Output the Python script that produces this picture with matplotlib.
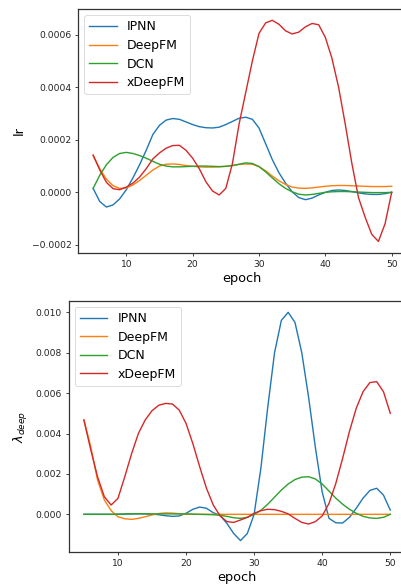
import numpy as np
import matplotlib
matplotlib.use("Agg")
import matplotlib.pyplot as plt

epochs = list(range(5, 51))

# learning rate per epoch (units of 1e-4)
lr_ipnn = [0.15, -0.35, -0.56, -0.48, -0.25, 0.10, 0.55, 1.05, 1.60, 2.20,
           2.55, 2.75, 2.81, 2.78, 2.68, 2.58, 2.50, 2.46, 2.45, 2.48,
           2.58, 2.70, 2.82, 2.86, 2.78, 2.45, 1.85, 1.25, 0.75, 0.35,
           0.02, -0.20, -0.28, -0.22, -0.10, 0.00, 0.07, 0.09, 0.07, 0.03,
           -0.02, -0.06, -0.08, -0.08, -0.05, 0.00]
lr_deepfm = [1.40, 0.90, 0.50, 0.25, 0.15, 0.17, 0.28, 0.45, 0.65, 0.85,
             1.00, 1.07, 1.08, 1.06, 1.02, 0.99, 0.97, 0.96, 0.96, 0.97,
             0.99, 1.02, 1.06, 1.08, 1.07, 0.98, 0.82, 0.62, 0.44, 0.30,
             0.20, 0.16, 0.15, 0.17, 0.20, 0.23, 0.25, 0.26, 0.26, 0.25,
             0.24, 0.23, 0.22, 0.22, 0.22, 0.23]
lr_dcn = [0.15, 0.65, 1.05, 1.33, 1.48, 1.52, 1.48, 1.40, 1.30, 1.18,
          1.07, 1.00, 0.97, 0.97, 0.98, 0.99, 1.00, 1.00, 0.99, 0.98,
          0.99, 1.02, 1.07, 1.12, 1.10, 0.98, 0.78, 0.55, 0.33, 0.15,
          0.02, -0.07, -0.10, -0.08, -0.04, 0.00, 0.02, 0.03, 0.03, 0.02,
          0.01, 0.00, -0.01, -0.01, -0.01, 0.00]
lr_xdeepfm = [1.42, 0.85, 0.38, 0.14, 0.10, 0.20, 0.35, 0.58, 0.90, 1.27,
              1.50, 1.68, 1.78, 1.79, 1.60, 1.30, 0.90, 0.40, 0.05, -0.10,
              0.15, 1.10, 2.60, 3.80, 5.00, 6.05, 6.45, 6.55, 6.40, 6.15,
              6.03, 6.10, 6.30, 6.43, 6.38, 5.90, 5.10, 4.00, 2.60, 1.10,
              -0.20, -0.95, -1.60, -1.87, -1.20, 0.00]

# lambda_deep per epoch (units of 1e-3)
lam_ipnn = [0.00, 0.00, 0.00, 0.00, 0.00, 0.00, 0.01, 0.02, 0.02, 0.02,
            0.01, -0.02, -0.07, -0.10, -0.08, 0.05, 0.25, 0.36, 0.30, 0.08,
            -0.05, -0.45, -0.95, -1.30, -0.95, 0.00, 2.30, 5.30, 8.00, 9.60,
            10.00, 9.50, 8.00, 5.80, 3.30, 1.10, -0.20, -0.42, -0.43, -0.15,
            0.30, 0.80, 1.18, 1.29, 0.95, 0.21]
lam_deepfm = [4.67, 3.35, 1.70, 0.71, 0.18, -0.12, -0.22, -0.25, -0.20, -0.12,
              -0.03, 0.04, 0.07, 0.06, 0.03, 0.00, 0.00, 0.00, 0.00, 0.00,
              0.00, 0.00, 0.00, 0.00, 0.00, 0.00, 0.00, 0.00, 0.00, 0.00,
              0.00, 0.00, 0.00, 0.00, 0.00, 0.00, 0.00, 0.00, 0.00, 0.00,
              0.00, 0.00, 0.00, 0.00, 0.00, 0.00]
lam_dcn = [0.00, 0.00, 0.00, 0.00, 0.00, 0.01, 0.02, 0.03, 0.03, 0.03,
           0.02, 0.02, 0.02, 0.02, 0.02, 0.02, 0.01, 0.00, -0.01, -0.02,
           -0.05, -0.10, -0.17, -0.20, -0.15, 0.00, 0.20, 0.50, 0.85, 1.20,
           1.50, 1.72, 1.84, 1.86, 1.75, 1.50, 1.15, 0.80, 0.50, 0.25,
           0.05, -0.10, -0.18, -0.20, -0.15, 0.00]
lam_xdeepfm = [4.67, 3.20, 1.86, 0.87, 0.46, 0.79, 1.86, 3.00, 4.00, 4.67,
               5.13, 5.40, 5.49, 5.46, 5.16, 4.50, 3.50, 2.36, 1.29, 0.46,
               -0.08, -0.36, -0.40, -0.28, -0.15, 0.05, 0.18, 0.25, 0.23, 0.15,
               0.02, -0.20, -0.40, -0.48, -0.36, -0.08, 0.54, 1.53, 2.77, 4.10,
               5.25, 6.07, 6.52, 6.57, 6.07, 5.00]

names = ["IPNN", "DeepFM", "DCN", "xDeepFM"]
colors = ["#1f77b4", "#ff7f0e", "#2ca02c", "#d62728"]

W, H = 401, 586
fig = plt.figure(figsize=(W / 100, H / 100), dpi=100)


def axes_px(left, right, top, bottom):
    return fig.add_axes([left / W, 1 - bottom / H, (right - left) / W, (bottom - top) / H])


TICK_FS = 6.6
LABEL_FS = 9.3
LEG_FS = 9.0


def style(ax):
    for s in ax.spines.values():
        s.set_color("#333333")
        s.set_linewidth(0.9)
    ax.tick_params(labelsize=TICK_FS, length=2.4, width=0.6, pad=2.5, colors="#222222")


def legend(ax):
    leg = ax.legend(loc="upper left", fontsize=LEG_FS, handlelength=2.2,
                    borderpad=0.4, labelspacing=0.45, handletextpad=0.8,
                    borderaxespad=0.5, framealpha=0.8)
    leg.get_frame().set_linewidth(0.6)


# learning-rate panel
ax1 = axes_px(78.2, 406.6, 9, 253)
for name, col, vals in zip(names, colors, [lr_ipnn, lr_deepfm, lr_dcn, lr_xdeepfm]):
    ax1.plot(epochs, np.array(vals) * 1e-4, color=col, lw=1.0, label=name)
ax1.set_xlim(2.75, 52.25)
ax1.set_ylim(-0.000231, 0.000698)
ax1.set_xticks([10, 20, 30, 40, 50])
ax1.set_yticks([-0.0002, 0.0, 0.0002, 0.0004, 0.0006])
ax1.set_yticklabels(["\u22120.0002", "0.0000", "0.0002", "0.0004", "0.0006"])
ax1.set_xlabel("epoch", fontsize=LABEL_FS, labelpad=2)
ax1.set_ylabel("lr", fontsize=LABEL_FS, labelpad=4)
style(ax1)
legend(ax1)

# lambda_deep panel
ax2 = axes_px(68.6, 405.6, 300.7, 552.3)
for name, col, vals in zip(names, colors, [lam_ipnn, lam_deepfm, lam_dcn, lam_xdeepfm]):
    ax2.plot(epochs, np.array(vals) * 1e-3, color=col, lw=1.0, label=name)
ax2.set_xlim(2.75, 52.25)
ax2.set_ylim(-0.00188, 0.010574)
ax2.set_xticks([10, 20, 30, 40, 50])
ax2.set_yticks([0.0, 0.002, 0.004, 0.006, 0.008, 0.010])
ax2.set_yticklabels(["0.000", "0.002", "0.004", "0.006", "0.008", "0.010"])
ax2.set_xlabel("epoch", fontsize=LABEL_FS, labelpad=2)
ax2.set_ylabel(r"$\lambda_{deep}$", fontsize=LABEL_FS, labelpad=4)
style(ax2)
legend(ax2)

fig.savefig("out.png", dpi=100)
